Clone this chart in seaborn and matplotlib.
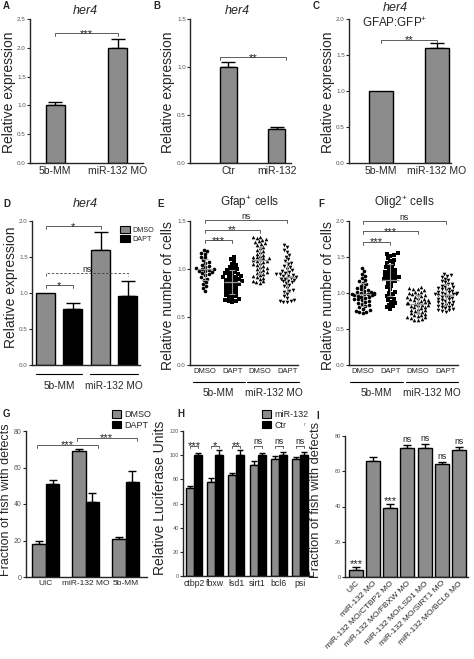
import numpy as np
import pandas as pd
import matplotlib
matplotlib.use("Agg")
import matplotlib.pyplot as plt
import seaborn as sns
from matplotlib.patches import Patch
from matplotlib.ticker import FormatStrFormatter
from matplotlib.transforms import blended_transform_factory

sns.set_style("ticks")
plt.rcParams["font.family"] = ["Liberation Sans", "DejaVu Sans"]
plt.rcParams["mathtext.fontset"] = "custom"
plt.rcParams["mathtext.rm"] = "Liberation Sans"
plt.rcParams["mathtext.it"] = "Liberation Sans:italic"

GREY = "#8c8c8c"
W, H = 474, 659

# -----------------------------
# Data
# -----------------------------
a_labels = ["5b-MM", "miR-132 MO"]
a_vals = [1.0, 2.0]
a_err = [0.06, 0.15]

b_labels = ["Ctr", "miR-132"]
b_vals = [1.0, 0.35]
b_err = [0.05, 0.03]

c_labels = ["5b-MM", "miR-132 MO"]
c_vals = [1.0, 1.6]
c_err = [0.0, 0.06]

d_groups = ["5b-MM", "miR-132 MO"]
d_dmso = [1.0, 1.6]
d_dmso_err = [0.0, 0.25]
d_dapt = [0.78, 0.96]
d_dapt_err = [0.08, 0.2]

scatter_ids = ["mm_dmso", "mm_dapt", "mo_dmso", "mo_dapt"]
scatter_ticks = ["DMSO", "DAPT", "DMSO", "DAPT"]
scatter_groups = ["5b-MM", "miR-132 MO"]

e_mm_dmso = [1.20, 1.19, 1.17, 1.16, 1.13, 1.12, 1.09, 1.07, 1.06, 1.04, 1.03, 1.02, 1.01, 1.00,
             1.00, 0.99, 0.98, 0.98, 0.97, 0.96, 0.95, 0.94, 0.92, 0.90, 0.89, 0.86, 0.84, 0.82,
             0.80, 0.77]
e_mm_dapt = [1.12, 1.10, 1.08, 1.05, 1.04, 1.02, 1.01, 1.00, 0.99, 0.98, 0.97, 0.96, 0.95, 0.95,
             0.94, 0.93, 0.92, 0.92, 0.91, 0.90, 0.90, 0.89, 0.88, 0.87, 0.87, 0.86, 0.85, 0.84,
             0.84, 0.83, 0.82, 0.81, 0.80, 0.79, 0.78, 0.77, 0.76, 0.75, 0.74, 0.73, 0.72, 0.71,
             0.70, 0.69, 0.68, 0.67, 0.67, 0.66]
e_mo_dmso = [1.33, 1.33, 1.32, 1.31, 1.30, 1.29, 1.28, 1.27, 1.26, 1.25, 1.23, 1.22, 1.20, 1.19,
             1.18, 1.16, 1.15, 1.14, 1.13, 1.12, 1.11, 1.11, 1.10, 1.09, 1.08, 1.08, 1.07, 1.06,
             1.05, 1.04, 1.03, 1.02, 1.01, 1.00, 0.99, 0.98, 0.97, 0.96, 0.95, 0.94, 0.93, 0.92,
             0.91, 0.90, 0.88, 0.87, 0.86, 0.85]
e_mo_dapt = [1.25, 1.23, 1.20, 1.18, 1.15, 1.13, 1.10, 1.08, 1.06, 1.05, 1.03, 1.02, 1.00, 0.99,
             0.98, 0.97, 0.96, 0.95, 0.95, 0.94, 0.93, 0.93, 0.92, 0.91, 0.90, 0.90, 0.89, 0.88,
             0.87, 0.86, 0.85, 0.83, 0.82, 0.80, 0.78, 0.77, 0.76, 0.74, 0.72, 0.70, 0.68, 0.67,
             0.67, 0.66, 0.66]

f_mm_dmso = [1.35, 1.31, 1.27, 1.24, 1.21, 1.18, 1.16, 1.14, 1.12, 1.10, 1.08, 1.07, 1.05, 1.04,
             1.03, 1.02, 1.01, 1.00, 1.00, 0.99, 0.99, 0.98, 0.98, 0.97, 0.97, 0.96, 0.95, 0.94,
             0.93, 0.92, 0.91, 0.90, 0.89, 0.88, 0.86, 0.85, 0.83, 0.82, 0.80, 0.78, 0.76, 0.75,
             0.74, 0.73, 0.72]
f_mm_dapt = [1.55, 1.54, 1.53, 1.52, 1.48, 1.46, 1.44, 1.42, 1.40, 1.38, 1.36, 1.35, 1.33, 1.32,
             1.30, 1.29, 1.28, 1.26, 1.25, 1.24, 1.23, 1.22, 1.21, 1.20, 1.19, 1.18, 1.16, 1.15,
             1.13, 1.10, 1.08, 1.05, 1.02, 1.00, 0.98, 0.96, 0.94, 0.92, 0.90, 0.88, 0.86, 0.84,
             0.82, 0.80, 0.78]
f_mo_dmso = [1.08, 1.07, 1.06, 1.05, 1.04, 1.02, 1.01, 1.00, 0.99, 0.98, 0.97, 0.96, 0.95, 0.94,
             0.93, 0.92, 0.91, 0.90, 0.90, 0.89, 0.88, 0.87, 0.87, 0.86, 0.86, 0.85, 0.84, 0.84,
             0.83, 0.82, 0.81, 0.80, 0.79, 0.78, 0.77, 0.76, 0.75, 0.74, 0.73, 0.72, 0.71, 0.70,
             0.69, 0.68, 0.67, 0.66, 0.65, 0.64, 0.63, 0.63]
f_mo_dapt = [1.26, 1.25, 1.24, 1.22, 1.20, 1.18, 1.16, 1.15, 1.13, 1.12, 1.10, 1.09, 1.08, 1.07,
             1.06, 1.05, 1.04, 1.03, 1.02, 1.01, 1.00, 1.00, 0.99, 0.99, 0.98, 0.98, 0.97, 0.96,
             0.95, 0.94, 0.93, 0.92, 0.91, 0.90, 0.89, 0.88, 0.87, 0.86, 0.85, 0.84, 0.83, 0.82,
             0.81, 0.80, 0.79, 0.78, 0.77, 0.76, 0.75, 0.74]

g_groups = ["UIC", "miR-132 MO", "5b-MM"]
g_dmso = [18, 69, 21]
g_dmso_err = [2, 1, 0.7]
g_dapt = [51, 41, 52]
g_dapt_err = [2, 5, 6]

h_genes = ["ctbp2", "fbxw", "lsd1", "sirt1", "bcl6", "psi"]
h_mir = [73, 78, 84, 92, 97, 97]
h_mir_err = [1.5, 3, 1.5, 3, 2, 1.5]
h_ctr = [100, 100, 100, 100, 100, 100]
h_ctr_err = [2, 4.5, 4, 1.5, 3, 2.5]
h_sig = ["***", "*", "**", "ns", "ns", "ns"]

i_labels = ["UIC", "miR-132 MO", "miR-132 MO/CTBP2 MO", "miR-132 MO/FBXW MO",
            "miR-132 MO/LSD1 MO", "miR-132 MO/SIRT1 MO", "miR-132 MO/BCL6 MO"]
i_vals = [4, 66, 39, 73, 73, 64, 72]
i_err = [1.5, 2, 2.5, 2, 2.5, 1.5, 2]
i_sig = ["***", "", "***", "ns", "ns", "ns", "ns"]

# -----------------------------
# Helpers
# -----------------------------
fig = plt.figure(figsize=(W / 100, H / 100), dpi=100)


def px_ax(x0, y0, x1, y1):
    return fig.add_axes([x0 / W, 1 - y1 / H, (x1 - x0) / W, (y1 - y0) / H])


def style(ax, ymax, step, fmt, ylabel, lab_xy, ylsize=10, ytsize=4.5):
    sns.despine(ax=ax)
    ax.set_ylim(0, ymax)
    ax.set_yticks(np.arange(0, ymax + step / 2, step))
    ax.yaxis.set_major_formatter(FormatStrFormatter(fmt))
    ax.tick_params(axis="y", labelsize=ytsize, labelcolor="#555", length=2, width=0.8, pad=1)
    ax.tick_params(axis="x", length=0, pad=2)
    for s in ax.spines.values():
        s.set_linewidth(1)
    ax.set_xlabel("")
    ax.set_ylabel(ylabel, fontsize=ylsize)
    ax.yaxis.set_label_coords(lab_xy[0] / W, 1 - lab_xy[1] / H, transform=fig.transFigure)


def add_err(ax, container, errs, cap=4):
    for bar, e in zip(container, errs):
        if e <= 0:
            continue
        x = bar.get_x() + bar.get_width() / 2
        ax.errorbar(x, bar.get_height(), yerr=[[0], [e]], fmt="none", ecolor="k",
                    elinewidth=1, capsize=cap, capthick=1, zorder=1)


def bracket(ax, x1, x2, y, txt, tick=0.02, ls="-"):
    h = tick * ax.get_ylim()[1]
    ax.plot([x1, x1, x2, x2], [y - h, y, y, y - h], color="#444", lw=0.6, ls=ls, clip_on=False)
    stars = "*" in txt
    ax.annotate(txt, xy=((x1 + x2) / 2, y), xytext=(0, -2.6 if stars else 0.8),
                textcoords="offset points", ha="center", va="baseline",
                fontsize=8 if stars else 6.3, color="#222", annotation_clip=False)


def centers(container):
    return [b.get_x() + b.get_width() / 2 for b in container]


def group_lines(ax, spans, labels, y_line, y_text, fs=7.3):
    tr = blended_transform_factory(ax.transData, fig.transFigure)
    for (x1, x2), lab in zip(spans, labels):
        ax.plot([x1, x2], [1 - y_line / H] * 2, transform=tr, color="k", lw=0.8, clip_on=False)
        ax.text((x1 + x2) / 2, 1 - y_text / H, lab, transform=tr, ha="center", va="center", fontsize=fs)


def ftext(x, y, s, **kw):
    fig.text(x / W, 1 - y / H, s, **kw)


def simple_bars(ax, labels, vals, errs, width, cap):
    sns.barplot(x=labels, y=vals, color=GREY, edgecolor="k", linewidth=1, width=width,
                errorbar=None, ax=ax, zorder=2)
    add_err(ax, ax.containers[0], errs, cap)
    ax.tick_params(axis="x", labelsize=7.5)


def pair_legend(ax, labels, x, y, fs, hl, hh):
    handles = [Patch(facecolor=GREY, edgecolor="k", lw=0.8), Patch(facecolor="k", edgecolor="k", lw=0.8)]
    ax.legend(handles, labels, loc="center left", bbox_to_anchor=(x / W, 1 - y / H),
              bbox_transform=fig.transFigure, frameon=False, fontsize=fs, borderpad=0,
              handlelength=hl, handleheight=hh, handletextpad=0.3, labelspacing=0.15)


# =====================================================
# Row 1: A, B, C
# =====================================================
ax = px_ax(30, 19, 143, 163)
simple_bars(ax, a_labels, a_vals, a_err, 0.3, 5)
ax.set_xlim(-0.4, 1.4)
style(ax, 2.5, 0.5, "%.1f", "Relative expression", (16, 92))
bracket(ax, 0, 1, 2.25, "***")
ftext(85, 11, "her4", fontsize=9, style="italic", ha="center", va="center")

ax = px_ax(190, 19, 291, 163)
simple_bars(ax, b_labels, b_vals, b_err, 0.37, 5)
ax.set_xlim(-0.8, 1.3)
style(ax, 1.5, 0.5, "%.1f", "Relative expression", (175, 92))
bracket(ax, -0.17, 1.19, 1.1, "**")
ftext(237, 11, "her4", fontsize=9, style="italic", ha="center", va="center")

ax = px_ax(349, 19, 451, 163)
simple_bars(ax, c_labels, c_vals, c_err, 0.42, 5)
ax.set_xlim(-0.57, 1.25)
style(ax, 2.0, 0.5, "%.1f", "Relative expression", (335, 92))
bracket(ax, 0, 1, 1.71, "**")
ftext(395, 8, "her4", fontsize=9, style="italic", ha="center", va="center")
ftext(395, 23, "GFAP:GFP$^{+}$", fontsize=8.4, ha="center", va="center")

# =====================================================
# Row 2: D, E, F
# =====================================================
ax = px_ax(32, 221, 140, 365)
d_df = pd.DataFrame({"group": d_groups * 2,
                     "treat": ["DMSO"] * len(d_groups) + ["DAPT"] * len(d_groups),
                     "val": d_dmso + d_dapt})
sns.barplot(data=d_df, x="group", y="val", hue="treat", hue_order=["DMSO", "DAPT"],
            palette={"DMSO": GREY, "DAPT": "k"}, edgecolor="k", linewidth=1,
            width=0.98, gap=0.3, errorbar=None, legend=False, ax=ax, zorder=2)
add_err(ax, ax.containers[0], d_dmso_err, 5)
add_err(ax, ax.containers[1], d_dapt_err, 5)
ax.set_xlim(-0.49, 1.47)
style(ax, 2.0, 0.5, "%.1f", "Relative expression", (18, 287))
ax.set_xticklabels([])
dm, dp = centers(ax.containers[0]), centers(ax.containers[1])
bracket(ax, dm[0], dm[1], 1.93, "*")
bracket(ax, dm[0], dp[0], 1.11, "*")
bracket(ax, dm[0], dp[1], 1.28, "ns", ls=(0, (3, 2)))
group_lines(ax, [(-0.42, 0.42), (0.57, 1.43)], d_groups, 374, 386)
pair_legend(ax, ["DMSO", "DAPT"], 116, 234.5, 5.2, 1.4, 1.1)
ftext(85, 204, "her4", fontsize=9, style="italic", ha="center", va="center")

scatter_sets = [
    ((190, 221, 298, 365), [e_mm_dmso, e_mm_dapt, e_mo_dmso, e_mo_dapt], 1.5, (175, 296),
     (-0.55, 3.4), [(1, 1.30, "***"), (2, 1.41, "**"), (3, 1.51, "ns")], "Gfap$^{+}$ cells", 250),
    ((349, 221, 458, 365), [f_mm_dmso, f_mm_dapt, f_mo_dmso, f_mo_dapt], 2.0, (335, 296),
     (-0.5, 3.45), [(1, 1.71, "***"), (2, 1.86, "***"), (3, 2.0, "ns")], "Olig2$^{+}$ cells", 405),
]
markers = ["o", "s", "^", "v"]
for box, sets, ymax, lab, xlim, brs, title, tx in scatter_sets:
    ax = px_ax(*box)
    for gid, vals, m in zip(scatter_ids, sets, markers):
        sns.swarmplot(x=[gid] * len(vals), y=vals, order=scatter_ids, ax=ax, color="k",
                      marker=m, size=2.6, linewidth=0, zorder=2)
    pos = np.arange(len(scatter_ids))
    means = [np.mean(v) for v in sets]
    sds = [np.std(v) for v in sets]
    ax.hlines(means, pos - 0.3, pos + 0.3, color="#999", lw=0.9, zorder=3)
    ax.errorbar(pos, means, yerr=sds, fmt="none", ecolor="#999", elinewidth=0.8,
                capsize=2.5, capthick=0.8, zorder=3)
    ax.set_xticks(pos)
    ax.set_xticklabels(scatter_ticks)
    ax.set_xlim(*xlim)
    style(ax, ymax, 0.5, "%.1f", "Relative number of cells", lab)
    ax.tick_params(axis="x", labelsize=5.5, pad=2.5)
    for j, y, s in brs:
        bracket(ax, 0, j, y, s)
    group_lines(ax, [(-0.45, 1.45), (1.55, 3.45)], scatter_groups, 382, 393)
    ftext(tx, 203, title, fontsize=8.5, ha="center", va="center")

# =====================================================
# Row 3: G, H, I
# =====================================================
ax = px_ax(26, 431, 147, 577)
g_df = pd.DataFrame({"group": g_groups * 2,
                     "treat": ["DMSO"] * len(g_groups) + ["DAPT"] * len(g_groups),
                     "val": g_dmso + g_dapt})
sns.barplot(data=g_df, x="group", y="val", hue="treat", hue_order=["DMSO", "DAPT"],
            palette={"DMSO": GREY, "DAPT": "k"}, edgecolor="k", linewidth=1,
            width=0.68, gap=0, errorbar=None, legend=False, ax=ax, zorder=2)
add_err(ax, ax.containers[0], g_dmso_err, 3)
add_err(ax, ax.containers[1], g_dapt_err, 3)
ax.set_xlim(-0.5, 2.54)
style(ax, 80, 20, "%d", "Fraction of fish with defects", (12, 500), ylsize=9, ytsize=5)
ax.tick_params(axis="x", labelsize=6)
bracket(ax, -0.22, 1.3, 72.4, "***")
bracket(ax, 0.78, 2.28, 76.2, "***")
pair_legend(ax, ["DMSO", "DAPT"], 107, 420, 6.5, 1.1, 0.9)

ax = px_ax(183, 431, 312, 576)
h_df = pd.DataFrame({"gene": h_genes * 2,
                     "cond": ["miR-132"] * len(h_genes) + ["Ctr"] * len(h_genes),
                     "val": h_mir + h_ctr})
sns.barplot(data=h_df, x="gene", y="val", hue="cond", hue_order=["miR-132", "Ctr"],
            palette={"miR-132": GREY, "Ctr": "k"}, edgecolor="k", linewidth=1,
            width=0.76, gap=0, errorbar=None, legend=False, ax=ax, zorder=2)
add_err(ax, ax.containers[0], h_mir_err, 2)
add_err(ax, ax.containers[1], h_ctr_err, 2)
ax.set_xlim(-0.52, 5.57)
style(ax, 120, 20, "%d", "Relative Luciferase Units", (167, 498), ytsize=4)
ax.tick_params(axis="x", labelsize=6.3)
for x1, x2, s in zip(centers(ax.containers[0]), centers(ax.containers[1]), h_sig):
    bracket(ax, x1, x2, 108, s, tick=0.015)
pair_legend(ax, ["miR-132", "Ctr"], 257, 420, 6.5, 1.1, 0.9)
ftext(305, 424, "r", fontsize=4, color="#777", ha="center", va="center")

ax = px_ax(345, 436, 468, 577)
sns.barplot(x=i_labels, y=i_vals, color=GREY, edgecolor="k", linewidth=1, width=0.82,
            errorbar=None, ax=ax, zorder=2)
add_err(ax, ax.containers[0], i_err, 3)
ax.set_xlim(-0.64, 6.53)
style(ax, 80, 20, "%d", "Fraction of fish with defects", (322, 500), ylsize=9.3, ytsize=4)
ax.set_xticks(range(len(i_labels)))
ax.set_xticklabels(i_labels, rotation=45, ha="right", rotation_mode="anchor", fontsize=6)
for bar, e, s in zip(ax.containers[0], i_err, i_sig):
    if s:
        stars = "*" in s
        ax.annotate(s, xy=(bar.get_x() + bar.get_width() / 2, bar.get_height() + e),
                    xytext=(0, 0 if stars else 2), textcoords="offset points",
                    ha="center", va="baseline", fontsize=8 if stars else 6.3,
                    color="#222", annotation_clip=False)

# panel letters
for lab, x, y in [("A", 3, 6), ("B", 153, 6), ("C", 313, 6), ("D", 3, 204), ("E", 157, 204),
                  ("F", 318, 204), ("G", 3, 414), ("H", 177, 414), ("I", 316, 416)]:
    ftext(x, y, lab, fontsize=7, fontweight="bold", ha="left", va="center")

fig.savefig("out.png", dpi=100)
